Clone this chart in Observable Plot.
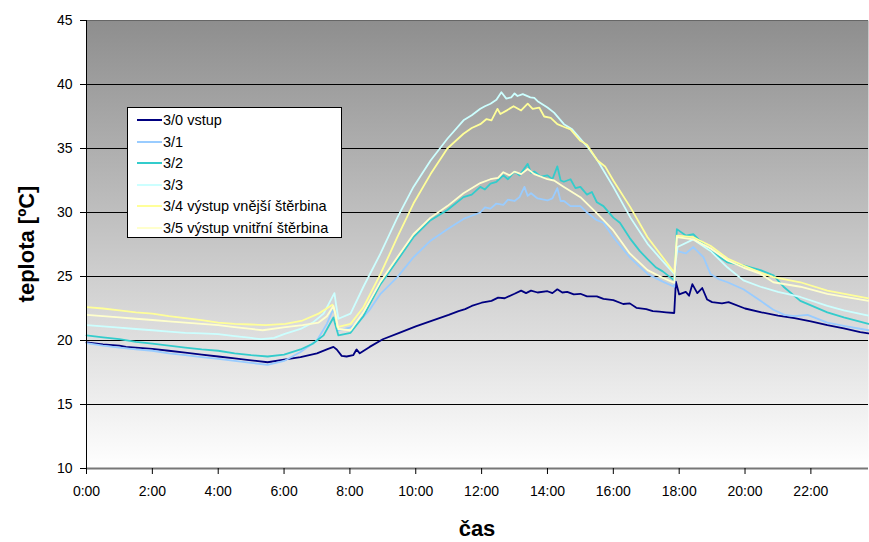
<!DOCTYPE html>
<html>
<head>
<meta charset="utf-8">
<script src="https://cdn.jsdelivr.net/npm/d3@7"></script>
<script src="https://cdn.jsdelivr.net/npm/@observablehq/plot@0.6"></script>
<style>
  html, body { margin: 0; padding: 0; background: #fff; }
  #wrap { position: relative; width: 869px; height: 542px; font-family: Arial, "Liberation Sans", sans-serif; }
  #legend { position: absolute; left: 127px; top: 107px; width: 215px; height: 131px; background: #fff; border: 1px solid #000; box-sizing: border-box; }
  .row { position: absolute; left: 9px; height: 17px; font-size: 14.5px; line-height: 17px; white-space: nowrap; color: #000; }
  .sw { display: inline-block; width: 25px; height: 2px; vertical-align: middle; margin-right: 1px; position: relative; top: -1px; }
  .ytitle { position: absolute; left: 27px; top: 244px; transform: translate(-50%, -50%) rotate(-90deg); font-size: 22px; font-weight: bold; white-space: nowrap; }
  .xtitle { position: absolute; left: 477px; top: 529px; transform: translate(-50%, -50%); font-size: 22px; font-weight: bold; white-space: nowrap; }
</style>
</head>
<body>
<div id="wrap"></div>
<script>
// ---- data (hours, °C) ----
const seriesNames = ["3/0 vstup", "3/1", "3/2", "3/3", "3/4 výstup vnější štěrbina", "3/5 výstup vnitřní štěrbina"];
const seriesColors = ["#000080", "#99CCFF", "#33CCCC", "#CCFFFF", "#FFFF99", "#FFFFCC"];
const yTicks = [10, 15, 20, 25, 30, 35, 40, 45];
const gridValues = [15, 20, 25, 30, 35, 40];
const xTicks = [0, 2, 4, 6, 8, 10, 12, 14, 16, 18, 20, 22];
const xTickLabels = ["0:00", "2:00", "4:00", "6:00", "8:00", "10:00", "12:00", "14:00", "16:00", "18:00", "20:00", "22:00"];

const s30 = [[0,19.85],[0.5,19.7],[1,19.6],[1.2,19.5],[1.5,19.45],[2,19.35],[2.5,19.2],[3,19.05],[3.5,18.9],[4,18.75],[4.5,18.6],[5,18.45],[5.5,18.3],[6,18.5],[6.5,18.7],[7,19.0],[7.3,19.3],[7.5,19.5],[7.6,19.3],[7.75,18.8],[7.9,18.75],[8.1,18.85],[8.2,19.3],[8.3,19.0],[8.6,19.5],[9.0,20.1],[9.5,20.6],[10,21.1],[10.5,21.55],[11,22.0],[11.3,22.3],[11.5,22.45],[11.7,22.7],[12,22.95],[12.3,23.1],[12.5,23.35],[12.7,23.3],[13,23.65],[13.2,23.9],[13.35,23.7],[13.5,23.9],[13.7,23.75],[14,23.85],[14.15,23.7],[14.3,24.0],[14.45,23.75],[14.6,23.8],[14.8,23.6],[15,23.65],[15.2,23.45],[15.5,23.45],[15.7,23.25],[16,23.15],[16.3,22.85],[16.5,22.9],[16.7,22.55],[17,22.45],[17.2,22.3],[17.4,22.25],[17.6,22.2],[17.85,22.15],[17.9,24.6],[18.0,23.6],[18.2,23.8],[18.3,23.5],[18.4,24.4],[18.55,23.7],[18.7,24.1],[18.85,23.2],[19.0,23.0],[19.3,22.9],[19.5,23.0],[20,22.5],[20.5,22.2],[21,21.95],[21.5,21.75],[22,21.5],[22.5,21.2],[23,20.95],[23.5,20.65],[23.75,20.55]];
const s31 = [[0,19.8],[0.5,19.6],[1,19.45],[1.5,19.3],[2,19.2],[2.5,19.0],[3,18.85],[3.5,18.7],[4,18.57],[4.5,18.4],[5,18.25],[5.5,18.1],[6,18.4],[6.5,19.1],[7,20.0],[7.3,21.3],[7.5,22.5],[7.55,22.0],[7.65,20.8],[8.0,21.0],[8.2,21.3],[8.6,22.4],[8.93,23.65],[9.44,24.95],[9.93,26.5],[10.45,27.8],[10.96,28.7],[11.45,29.5],[11.96,30.0],[12.1,30.4],[12.27,30.3],[12.45,30.7],[12.66,30.6],[12.8,31.0],[13.0,30.9],[13.15,31.2],[13.3,32.0],[13.4,31.3],[13.5,31.5],[13.7,31.1],[14.0,30.94],[14.15,31.1],[14.3,31.9],[14.4,30.9],[14.5,30.9],[14.7,30.5],[15.0,30.5],[15.2,30.0],[15.5,29.4],[15.7,29.2],[16.0,28.07],[16.5,26.5],[17.04,25.2],[17.5,24.6],[17.85,24.2],[17.92,27.0],[18.2,26.8],[18.43,27.3],[18.74,26.5],[18.95,25.2],[19.2,24.8],[19.47,24.55],[19.95,24.0],[20.47,23.1],[20.86,22.4],[21.2,22.0],[21.5,21.9],[21.9,22.0],[22.5,21.4],[23.0,21.15],[23.75,20.8]];
const s32 = [[0,20.4],[0.5,20.25],[1,20.1],[1.5,19.9],[2,19.75],[2.5,19.6],[3,19.45],[3.5,19.3],[4,19.2],[4.5,19.0],[5,18.85],[5.5,18.75],[6,18.9],[6.5,19.3],[6.87,19.75],[7.2,20.4],[7.5,21.8],[7.55,21.3],[7.65,20.4],[8.02,20.6],[8.41,21.9],[8.93,24.4],[9.44,26.25],[9.93,28.07],[10.45,29.4],[10.96,30.2],[11.45,31.2],[11.7,31.4],[11.96,32.0],[12.1,31.8],[12.27,32.25],[12.45,32.4],[12.66,32.9],[12.8,32.6],[13.0,33.2],[13.15,32.9],[13.4,33.8],[13.5,33.1],[13.6,33.2],[13.8,32.8],[14.0,32.9],[14.15,32.6],[14.3,33.6],[14.4,32.5],[14.5,32.4],[14.7,32.6],[14.85,31.9],[15.0,32.0],[15.2,31.4],[15.35,31.6],[15.5,30.8],[15.7,30.5],[16.0,29.6],[16.2,29.2],[16.5,28.0],[16.8,27.0],[17.04,26.35],[17.3,25.7],[17.5,25.4],[17.85,24.7],[17.93,28.7],[18.2,28.2],[18.43,28.3],[18.95,27.0],[19.47,26.1],[19.95,25.86],[20.47,25.5],[20.86,25.1],[21.17,24.2],[21.68,23.1],[22.5,22.2],[23.0,21.8],[23.75,21.3]];
const s33 = [[0,21.2],[0.5,21.1],[1,21.0],[1.5,20.9],[2,20.8],[2.5,20.7],[3,20.6],[3.5,20.55],[4,20.5],[4.5,20.35],[5,20.2],[5.3,20.1],[5.7,20.2],[6,20.5],[6.5,20.9],[6.87,21.4],[7.2,22.1],[7.53,23.7],[7.58,22.8],[7.65,21.7],[8.02,22.1],[8.41,24.2],[8.93,26.8],[9.44,29.6],[9.93,32.0],[10.45,34.06],[10.96,35.76],[11.45,37.2],[11.7,37.6],[11.96,38.1],[12.1,38.3],[12.27,38.5],[12.45,38.8],[12.6,39.4],[12.75,38.9],[12.9,39.0],[13.0,39.3],[13.09,39.1],[13.25,39.25],[13.48,39.0],[13.6,38.95],[13.7,38.7],[14.0,38.2],[14.2,37.8],[14.5,36.9],[14.75,36.5],[15.0,35.76],[15.25,35.0],[15.52,34.06],[16.0,32.0],[16.52,29.6],[17.04,27.55],[17.5,26.2],[17.85,25.2],[17.95,27.3],[18.43,27.9],[18.95,27.0],[19.47,25.7],[19.95,24.7],[20.47,24.2],[21.0,23.8],[21.68,23.4],[22.5,22.7],[23.0,22.35],[23.75,21.95]];
const s34 = [[0,22.6],[0.5,22.5],[1,22.35],[1.5,22.2],[2,22.1],[2.5,21.9],[3,21.75],[3.5,21.6],[4,21.4],[4.5,21.3],[5,21.25],[5.44,21.2],[6.04,21.3],[6.56,21.56],[7.05,22.1],[7.47,22.8],[7.55,22.2],[7.62,21.04],[8.02,21.3],[8.41,22.6],[8.93,25.2],[9.44,28.07],[9.93,30.7],[10.45,33.0],[10.96,35.0],[11.45,36.15],[11.7,36.6],[11.96,36.9],[12.15,37.3],[12.3,37.2],[12.48,38.1],[12.57,37.7],[12.78,38.0],[12.97,38.3],[13.2,37.97],[13.4,38.5],[13.55,38.1],[13.75,38.2],[13.9,37.5],[14.1,37.4],[14.3,36.9],[14.49,36.7],[14.7,36.5],[15.0,35.6],[15.2,35.3],[15.52,34.06],[15.75,33.6],[16.0,32.5],[16.52,30.4],[17.04,28.07],[17.5,26.5],[17.85,25.3],[17.93,28.2],[18.43,28.07],[18.95,27.4],[19.47,26.4],[19.95,25.86],[20.47,25.3],[20.86,24.95],[21.68,24.55],[22.5,23.9],[23.75,23.3]];
const s35 = [[0,22.0],[0.5,21.9],[1,21.8],[1.5,21.7],[2,21.6],[2.5,21.5],[3,21.4],[3.5,21.3],[4,21.2],[4.5,21.05],[5,20.9],[5.35,20.8],[6.04,21.04],[6.56,21.2],[7.05,21.4],[7.3,21.9],[7.5,22.7],[7.58,21.8],[7.65,20.9],[8.02,20.8],[8.41,22.2],[8.93,24.6],[9.44,26.5],[9.93,28.3],[10.45,29.6],[10.96,30.5],[11.45,31.5],[11.96,32.3],[12.27,32.6],[12.5,32.7],[12.66,33.15],[12.85,32.9],[13.0,33.2],[13.2,33.0],[13.4,33.4],[13.6,33.0],[14.0,32.6],[14.2,32.5],[14.5,32.0],[15.0,31.2],[15.52,29.9],[16.0,28.6],[16.5,26.8],[17.04,25.5],[17.5,24.9],[17.85,24.5],[17.93,28.07],[18.43,27.9],[18.95,27.2],[19.47,26.25],[19.95,25.7],[20.47,25.2],[20.86,24.55],[21.68,24.2],[22.5,23.65],[23.75,23.1]];

const allSeries = [s30, s31, s32, s33, s34, s35];
const rows = allSeries.flatMap((s, i) => s.map(([h, v]) => ({h, v, name: seriesNames[i]})));

const plot = Plot.plot({
  width: 869,
  height: 542,
  marginTop: 20,
  marginLeft: 86,
  marginRight: 1,
  marginBottom: 74,
  style: {fontSize: "14px", fontFamily: "Arial, 'Liberation Sans', sans-serif", background: "transparent", color: "#000", overflow: "visible"},
  x: {domain: [0, 23.75]},
  y: {domain: [10, 45]},
  color: {domain: seriesNames, range: seriesColors},
  marks: [
    Plot.frame({fill: "url(#bggrad)", stroke: null}),
    Plot.ruleY(gridValues, {stroke: "#000", strokeWidth: 1}),
    Plot.ruleY([45], {stroke: "#666", strokeWidth: 1.2}),
    Plot.lineY(rows, {x: "h", y: "v", z: "name", stroke: "name", strokeWidth: 1.8, curve: "linear"}),
    Plot.ruleY([10], {stroke: "#777", strokeWidth: 2}),
    Plot.ruleX([0], {stroke: "#000", strokeWidth: 1}),
    Plot.axisY({ticks: yTicks, tickSize: 6, tickPadding: 8, label: null, tickFormat: d => String(d)}),
    Plot.axisX({ticks: xTicks, tickSize: 6, tickPadding: 12, label: null, tickFormat: d => xTickLabels[xTicks.indexOf(d)]})
  ]
});

d3.select(plot).insert("defs", ":first-child").html(
  '<linearGradient id="bggrad" x1="0" y1="0" x2="0" y2="1">' +
  '<stop offset="0" stop-color="#8e8e8e"/><stop offset="1" stop-color="#ffffff"/></linearGradient>'
);

const wrap = document.getElementById("wrap");
wrap.appendChild(plot);
plot.style.position = "absolute";
plot.style.left = "0px";
plot.style.top = "0px";

const lg = document.createElement("div");
lg.id = "legend";
seriesNames.forEach((n, i) => {
  const r = document.createElement("div");
  r.className = "row";
  r.style.top = (4 + i * 21.5) + "px";
  const sw = document.createElement("span");
  sw.className = "sw";
  sw.style.background = seriesColors[i];
  r.appendChild(sw);
  r.appendChild(document.createTextNode(n));
  lg.appendChild(r);
});
wrap.appendChild(lg);

const yt = document.createElement("div");
yt.className = "ytitle";
yt.textContent = "teplota [ºC]";
wrap.appendChild(yt);
const xt = document.createElement("div");
xt.className = "xtitle";
xt.textContent = "čas";
wrap.appendChild(xt);
</script>
</body>
</html>
